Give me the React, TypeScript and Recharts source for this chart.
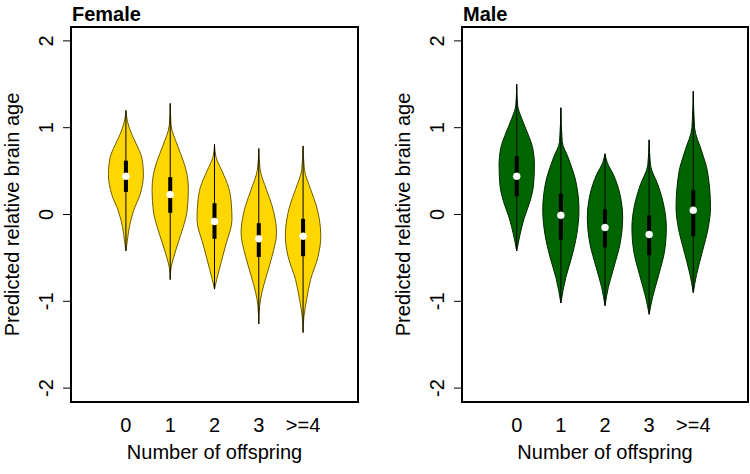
import React from 'react';
import { ComposedChart, Area, Line, XAxis, YAxis, ReferenceArea } from 'recharts';

const categories = ['0', '1', '2', '3', '>=4'];
const yTicks = [-2, -1, 0, 1, 2];

// Female
const femaleMedian = [0.44, 0.23, -0.08, -0.28, -0.25];
const femaleQ1 = [0.26, 0.02, -0.28, -0.49, -0.48];
const femaleQ3 = [0.62, 0.43, 0.13, -0.1, -0.05];
const femaleMin = [-0.42, -0.75, -0.86, -1.26, -1.36];
const femaleMax = [1.2, 1.28, 0.81, 0.76, 0.79];
// outline of each violin: [value, half width]
const femaleShape = [
  [[1.2, 0], [1.07, 0.035], [0.92, 0.135], [0.8, 0.245], [0.65, 0.36], [0.46, 0.395], [0.23, 0.32], [0.04, 0.17], [-0.15, 0.075], [-0.31, 0.03], [-0.42, 0]],
  [[1.28, 0], [1.03, 0.02], [0.8, 0.16], [0.61, 0.3], [0.46, 0.38], [0.29, 0.41], [0.04, 0.38], [-0.15, 0.29], [-0.34, 0.17], [-0.5, 0.075], [-0.61, 0.02], [-0.75, 0]],
  [[0.81, 0], [0.67, 0.03], [0.5, 0.17], [0.31, 0.32], [0.12, 0.38], [-0.06, 0.395], [-0.34, 0.26], [-0.57, 0.14], [-0.75, 0.05], [-0.86, 0]],
  [[0.76, 0], [0.52, 0.03], [0.29, 0.17], [0.1, 0.3], [-0.21, 0.4], [-0.48, 0.3], [-0.71, 0.17], [-0.9, 0.07], [-1.05, 0.02], [-1.26, 0]],
  [[0.79, 0], [0.52, 0.03], [0.29, 0.17], [0.1, 0.3], [-0.25, 0.4], [-0.48, 0.34], [-0.75, 0.17], [-0.98, 0.08], [-1.17, 0.02], [-1.36, 0]],
];

// Male
const maleMedian = [0.44, -0.01, -0.15, -0.23, 0.05];
const maleQ1 = [0.21, -0.29, -0.38, -0.47, -0.25];
const maleQ3 = [0.67, 0.24, 0.06, -0.01, 0.28];
const maleMin = [-0.42, -1.02, -1.05, -1.15, -0.9];
const maleMax = [1.5, 1.23, 0.7, 0.86, 1.42];
const maleShape = [
  [[1.5, 0], [1.26, 0.02], [1.11, 0.11], [0.92, 0.26], [0.77, 0.36], [0.57, 0.4], [0.34, 0.38], [0.15, 0.3], [-0.04, 0.17], [-0.23, 0.075], [-0.42, 0]],
  [[1.23, 0], [0.84, 0.03], [0.65, 0.17], [0.38, 0.34], [0.05, 0.41], [-0.23, 0.36], [-0.5, 0.24], [-0.73, 0.11], [-1.02, 0]],
  [[0.7, 0], [0.6, 0.05], [0.46, 0.19], [0.23, 0.34], [-0.04, 0.4], [-0.34, 0.34], [-0.61, 0.2], [-0.84, 0.075], [-1.05, 0]],
  [[0.86, 0], [0.57, 0.03], [0.34, 0.2], [0.11, 0.33], [-0.15, 0.39], [-0.42, 0.35], [-0.69, 0.22], [-0.96, 0.075], [-1.15, 0]],
  [[1.42, 0], [1.0, 0.03], [0.73, 0.19], [0.5, 0.32], [0.08, 0.39], [-0.15, 0.34], [-0.42, 0.21], [-0.69, 0.075], [-0.9, 0]],
];

const font = '"Liberation Sans", Arial, sans-serif';

const RotatedTick = (props: any) => {
  const { x, y, payload } = props;
  return (
    <text x={x} y={y} transform={`rotate(-90, ${x}, ${y})`} textAnchor="middle" fontSize={20} fill="#000" fontFamily={font}>
      {payload.value}
    </text>
  );
};

function Panel({ title, axisWidth, rightMargin, titleOffset, fill, edge, median, q1, q3, lo, hi, shapes }: any) {
  return (
    <div style={{ position: 'relative', width: 375, height: 474 }}>
      <div style={{ position: 'absolute', left: axisWidth + 1, top: 4, fontFamily: font, fontWeight: 'bold', fontSize: 20, lineHeight: '20px' }}>
        {title}
      </div>
      <ComposedChart width={375} height={474} layout="vertical" margin={{ top: 27, right: rightMargin, bottom: 12, left: 0 }}>
        <XAxis
          type="number"
          domain={[-0.24, 6.24]}
          allowDataOverflow
          ticks={[1, 2, 3, 4, 5]}
          tickFormatter={(v: number) => categories[v - 1]}
          axisLine={false}
          tickLine={false}
          tickMargin={10}
          height={60}
          tick={{ fontSize: 20, fill: '#000', fontFamily: font }}
          label={{ value: 'Number of offspring', position: 'insideBottom', offset: 3, fontSize: 20, fill: '#000', fontFamily: font }}
        />
        <YAxis
          type="number"
          dataKey="y"
          domain={[-2.16, 2.16]}
          allowDataOverflow
          reversed
          ticks={yTicks}
          width={axisWidth}
          axisLine={false}
          tickLine={{ stroke: '#000' }}
          tickSize={8}
          tickMargin={10}
          tick={<RotatedTick />}
          label={{ value: 'Predicted relative brain age', angle: -90, position: 'insideLeft', offset: titleOffset, fontSize: 20, fill: '#000', fontFamily: font, style: { textAnchor: 'middle' } }}
        />
        <ReferenceArea x1={-0.24} x2={6.24} y1={-2.16} y2={2.16} fill="none" stroke="#000" strokeWidth={2} fillOpacity={0} />
        {shapes.map((shape: number[][], i: number) => (
          <Area
            key={`v${i}`}
            data={shape.map(([y, w]) => ({ y, band: [i + 1 - w, i + 1 + w] })).sort((a, b) => a.y - b.y)}
            dataKey="band"
            type="monotone"
            fill={fill}
            fillOpacity={1}
            stroke={edge}
            strokeWidth={1}
            isAnimationActive={false}
          />
        ))}
        {categories.map((c, i) => (
          <Line
            key={`w${i}`}
            data={[{ y: lo[i], x: i + 1 }, { y: hi[i], x: i + 1 }]}
            dataKey="x"
            stroke="#000"
            strokeWidth={1}
            dot={false}
            activeDot={false}
            isAnimationActive={false}
          />
        ))}
        {categories.map((c, i) => (
          <Line
            key={`b${i}`}
            data={[{ y: q1[i], x: i + 1 }, { y: q3[i], x: i + 1 }]}
            dataKey="x"
            stroke="#000"
            strokeWidth={4}
            strokeLinecap="butt"
            dot={false}
            activeDot={false}
            isAnimationActive={false}
          />
        ))}
        {categories.map((c, i) => (
          <Line
            key={`m${i}`}
            data={[{ y: median[i], x: i + 1 }]}
            dataKey="x"
            stroke="none"
            dot={{ r: 3.5, fill: '#fff', stroke: '#fff', strokeWidth: 0.5 }}
            activeDot={false}
            isAnimationActive={false}
          />
        ))}
      </ComposedChart>
    </div>
  );
}

export default function App() {
  return (
    <div style={{ position: 'absolute', left: 0, top: 0, width: 750, height: 474, display: 'flex', background: '#fff' }}>
      <Panel
        title="Female"
        axisWidth={71}
        rightMargin={17}
        titleOffset={12.4}
        fill="#FFD700"
        edge="#6e5c00"
        median={femaleMedian}
        q1={femaleQ1}
        q3={femaleQ3}
        lo={femaleMin}
        hi={femaleMax}
        shapes={femaleShape}
      />
      <Panel
        title="Male"
        axisWidth={87}
        rightMargin={2}
        titleOffset={28.4}
        fill="#006400"
        edge="#002800"
        median={maleMedian}
        q1={maleQ1}
        q3={maleQ3}
        lo={maleMin}
        hi={maleMax}
        shapes={maleShape}
      />
    </div>
  );
}
